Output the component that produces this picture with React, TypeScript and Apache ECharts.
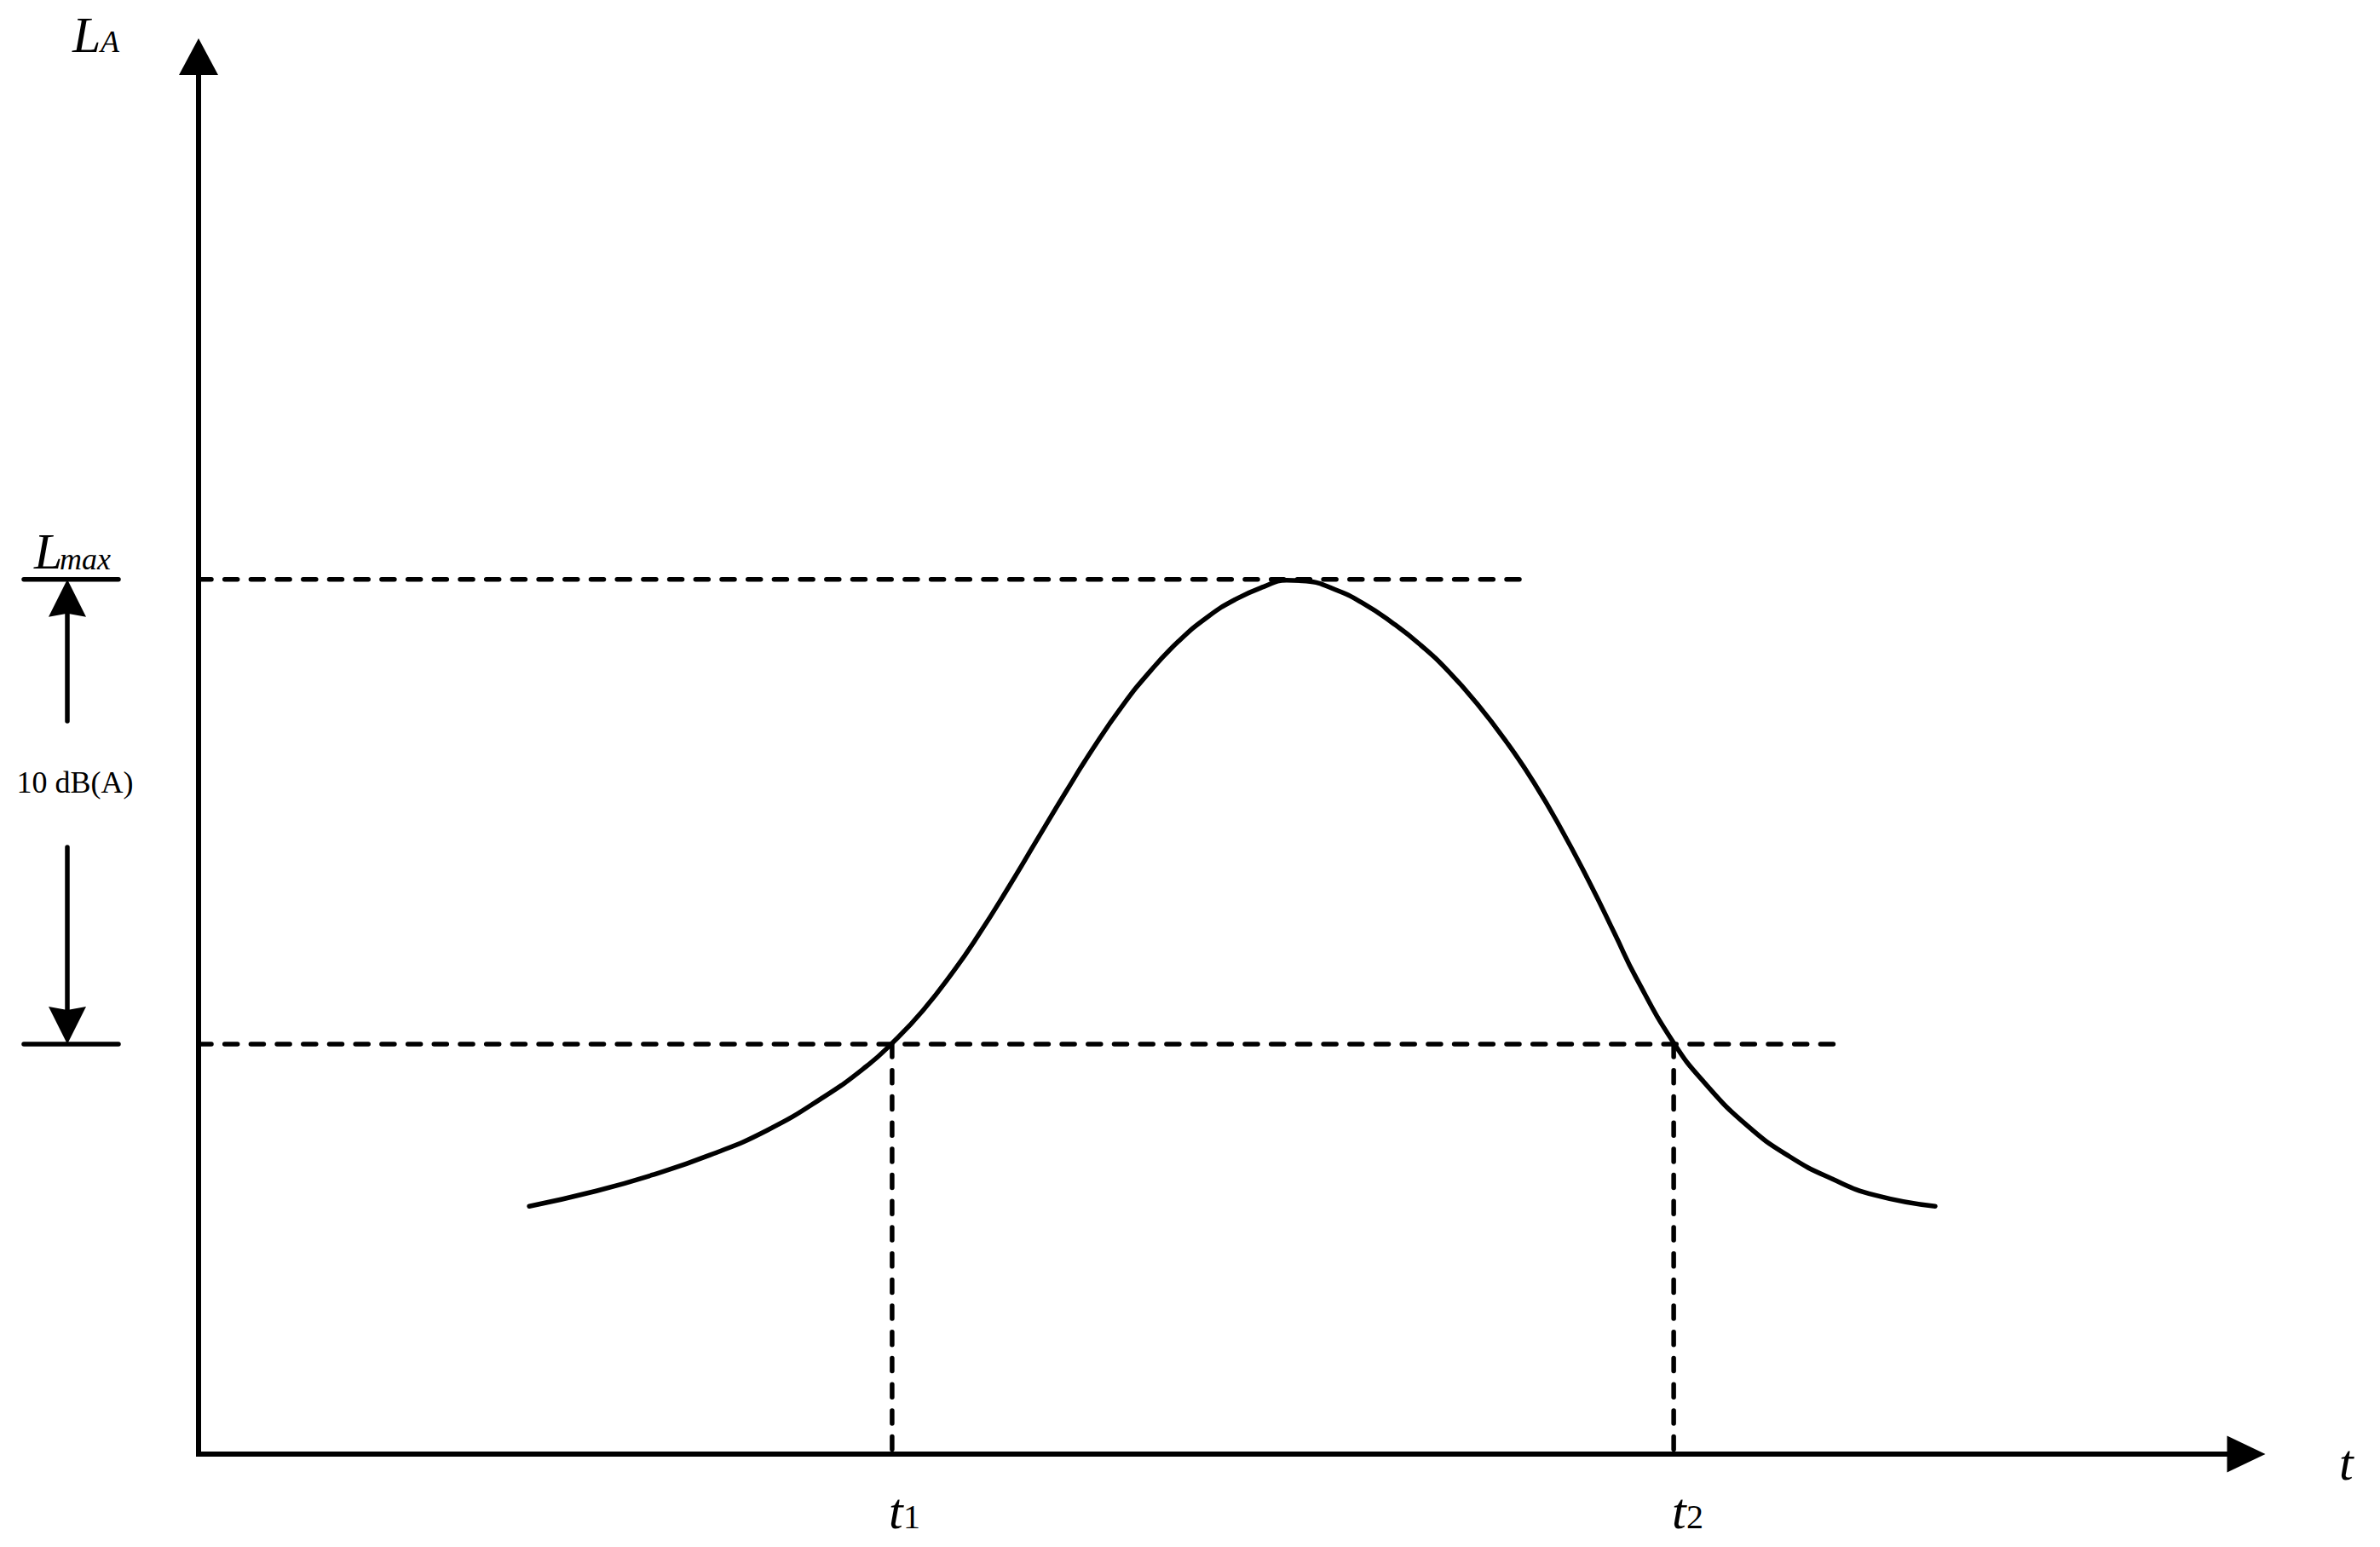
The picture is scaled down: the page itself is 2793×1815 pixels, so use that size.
import React, { useEffect, useRef } from "react";
import * as echarts from "echarts";

// Time axis (arbitrary units) and sound level axis (dB(A), arbitrary origin)
const T_MIN = 0;
const T_MAX = 10;
const L_MIN = 0;
const L_TOP = 30;

// Sound level curve L_A(t)
const CURVE_T = [
  1.615, 1.943, 2.222, 2.497, 2.776, 3.054, 3.263, 3.387, 3.537, 3.691, 3.804,
  3.953, 4.095, 4.232, 4.37, 4.511, 4.648, 4.786, 4.927, 5.064, 5.202, 5.314,
  5.41, 5.551, 5.689, 5.826, 5.968, 6.105, 6.242, 6.384, 6.521, 6.658, 6.8,
  6.916, 7.02, 7.204, 7.353, 7.561, 7.769, 7.977, 8.186, 8.481,
];
const CURVE_L = [
  5.32, 5.65, 6.0, 6.42, 6.95, 7.67, 8.33, 8.82, 9.52, 10.39, 11.11, 12.15,
  13.19, 14.19, 15.16, 16.06, 16.81, 17.45, 17.97, 18.35, 18.62, 18.76, 18.74,
  18.56, 18.26, 17.86, 17.37, 16.8, 16.12, 15.31, 14.42, 13.39, 12.21, 11.17,
  10.23, 8.83, 7.98, 7.06, 6.39, 5.91, 5.56, 5.32,
];

const L_MAX = 18.78;
const L_LOW = 8.8; // L_MAX - 10 dB(A)
const T1 = 3.387;
const T2 = 7.204;
const LMAX_LINE_END = 6.467;
const LLOW_LINE_END = 8.023;

const LABEL_Y_AXIS = ["L", "A"];
const LABEL_LMAX = ["L", "max"];
const LABEL_X_AXIS = "t";
const LABEL_T1 = ["t", "1"];
const LABEL_T2 = ["t", "2"];
const LABEL_DELTA = "10 dB(A)";

const SERIF = "'Liberation Serif', 'Times New Roman', serif";

export default function App() {
  const ref = useRef<HTMLDivElement>(null);

  useEffect(() => {
    const chart = echarts.init(ref.current!, null, { renderer: "svg" });
    const dashed = { color: "#000", width: 5.5, type: [15, 15.7], cap: "round" };
    const axisLine = (size: number[]) => ({
      show: true,
      onZero: false,
      symbol: ["none", "triangle"],
      symbolSize: size,
      lineStyle: { color: "#000", width: 6, cap: "square" },
    });
    const curveData = CURVE_T.map((t, i) => [t, CURVE_L[i]]);

    chart.setOption({
      animation: false,
      backgroundColor: "#fff",
      grid: { left: 233, right: 157, top: 66.5, bottom: 109 },
      xAxis: {
        type: "value",
        min: T_MIN,
        max: T_MAX,
        axisLine: axisLine([43, 45]),
        axisTick: { show: false },
        axisLabel: { show: false },
        splitLine: { show: false },
      },
      yAxis: {
        type: "value",
        min: L_MIN,
        max: L_TOP,
        axisLine: axisLine([46, 43]),
        axisTick: { show: false },
        axisLabel: { show: false },
        splitLine: { show: false },
      },
      series: [
        {
          type: "line",
          data: [
            [T_MIN, L_MAX],
            [LMAX_LINE_END, L_MAX],
          ],
          symbol: "none",
          lineStyle: dashed,
          z: 2,
        },
        {
          type: "line",
          data: [
            [T_MIN, L_LOW],
            [LLOW_LINE_END, L_LOW],
          ],
          symbol: "none",
          lineStyle: dashed,
          z: 2,
        },
        {
          type: "line",
          data: [
            [T1, L_LOW],
            [T1, L_MIN],
          ],
          symbol: "none",
          lineStyle: dashed,
          z: 2,
        },
        {
          type: "line",
          data: [
            [T2, L_LOW],
            [T2, L_MIN],
          ],
          symbol: "none",
          lineStyle: dashed,
          z: 2,
        },
        {
          type: "line",
          data: curveData,
          smooth: 0.5,
          symbol: "none",
          lineStyle: { color: "#000", width: 5.5, cap: "round", join: "round" },
          z: 3,
        },
      ],
    });

    const px = (t: number, l: number) =>
      chart.convertToPixel({ gridIndex: 0 }, [t, l]) as number[];
    const yMax = px(0, L_MAX)[1];
    const yLow = px(0, L_LOW)[1];
    const xT1 = px(T1, 0)[0];
    const xT2 = px(T2, 0)[0];
    const yAxisX = px(0, 0)[0];
    const xAxisY = px(0, 0)[1];

    const txt = (
      x: number,
      baseline: number,
      text: string,
      size: number,
      italic: boolean,
      align: string = "left"
    ) => ({
      type: "text",
      x,
      y: baseline - 0.3375 * size,
      style: {
        text,
        fill: "#000",
        font: `${italic ? "italic " : ""}${size}px ${SERIF}`,
        fontSize: size,
        fontFamily: SERIF,
        fontStyle: italic ? "italic" : "normal",
        align,
        verticalAlign: "middle",
      },
    });
    const seg = (x1: number, y1: number, x2: number, y2: number) => ({
      type: "line",
      shape: { x1, y1, x2, y2 },
      style: { stroke: "#000", lineWidth: 5.5, lineCap: "round" },
    });

    const ax = 79;
    const gapMid = 920;
    const elements: any[] = [
      // bracket lines
      seg(28, yMax, 139, yMax),
      seg(28, yLow, 139, yLow),
      // upper arrow
      seg(ax, yMax + 36, ax, gapMid - 74),
      {
        type: "polygon",
        shape: {
          points: [
            [ax, yMax],
            [ax + 22, yMax + 44],
            [ax, yMax + 40],
            [ax - 22, yMax + 44],
          ],
        },
        style: { fill: "#000" },
      },
      // lower arrow
      seg(ax, gapMid + 74, ax, yLow - 36),
      {
        type: "polygon",
        shape: {
          points: [
            [ax, yLow],
            [ax + 22, yLow - 44],
            [ax, yLow - 40],
            [ax - 22, yLow - 44],
          ],
        },
        style: { fill: "#000" },
      },
      txt(88, gapMid + 10, LABEL_DELTA, 36, false, "center"),
      // L_A
      txt(yAxisX - 148, 61, LABEL_Y_AXIS[0], 60, true),
      txt(yAxisX - 115, 61, LABEL_Y_AXIS[1], 36, true),
      // L_max
      txt(40, yMax - 12, LABEL_LMAX[0], 60, true),
      txt(70, yMax - 12, LABEL_LMAX[1], 36, true),
      // t
      txt(2745, xAxisY + 30, LABEL_X_AXIS, 60, true),
      // t1, t2
      txt(xT1 - 4, xAxisY + 87, LABEL_T1[0], 60, true),
      txt(xT1 + 13, xAxisY + 87, LABEL_T1[1], 40, false),
      txt(xT2 - 2, xAxisY + 87, LABEL_T2[0], 60, true),
      txt(xT2 + 15, xAxisY + 87, LABEL_T2[1], 40, false),
    ];
    chart.setOption({ graphic: { elements } });

    return () => chart.dispose();
  }, []);

  return (
    <div
      ref={ref}
      style={{ position: "fixed", left: 0, top: 0, width: 2793, height: 1815, background: "#fff" }}
    />
  );
}
